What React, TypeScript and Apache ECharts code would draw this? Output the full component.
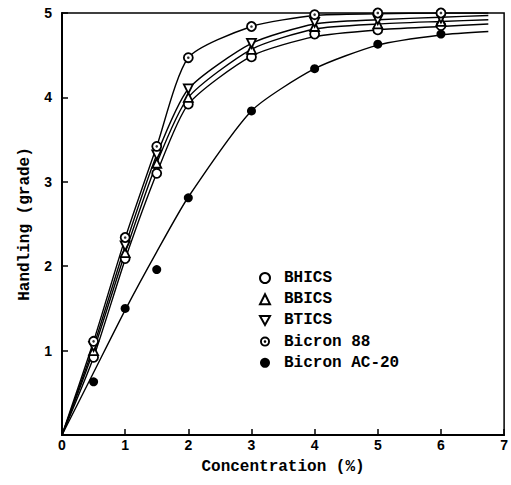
import React, { useEffect, useRef } from "react";
import * as echarts from "echarts";

const pointX = [0.5, 1, 1.5, 2, 3, 4, 5, 6];
const bhics = [0.92, 2.09, 3.1, 3.92, 4.48, 4.75, 4.8, 4.85];
const bbics = [1.0, 2.16, 3.22, 4.0, 4.57, 4.84, 4.87, 4.9];
const btics = [1.05, 2.24, 3.32, 4.1, 4.64, 4.89, 4.92, 4.94];
const bicron88 = [1.11, 2.34, 3.42, 4.47, 4.84, 4.98, 5.0, 5.0];
const bicronAC20 = [0.63, 1.5, 1.96, 2.81, 3.84, 4.34, 4.63, 4.75];

const curveX = [0, 0.5, 1, 1.5, 2, 3, 4, 5, 6, 6.75];
const bhicsCurve = [0, 0.92, 2.08, 3.1, 3.92, 4.49, 4.72, 4.8, 4.84, 4.87];
const bbicsCurve = [0, 1.0, 2.16, 3.22, 4.0, 4.57, 4.81, 4.87, 4.9, 4.92];
const bticsCurve = [0, 1.05, 2.24, 3.32, 4.1, 4.64, 4.87, 4.92, 4.95, 4.97];
const bicron88Curve = [0, 1.11, 2.33, 3.42, 4.47, 4.84, 4.97, 4.99, 5.0, 5.0];
const bicronAC20Curve = [0, 0.74, 1.48, 2.17, 2.82, 3.84, 4.34, 4.62, 4.74, 4.78];

const xTicks = [0, 1, 2, 3, 4, 5, 6, 7];
const yTicks = [0, 1, 2, 3, 4, 5];

const seriesNames = ["BHICS", "BBICS", "BTICS", "Bicron 88", "Bicron AC-20"];

const downTri = "path://M0,0L10,0L5,9Z";
const dottedCircle =
  "path://M5,0A5,5 0 1,1 5,10A5,5 0 1,1 5,0ZM5,1.9A3.1,3.1 0 1,0 5,8.1A3.1,3.1 0 1,0 5,1.9ZM5,3.7A1.3,1.3 0 1,1 5,6.3A1.3,1.3 0 1,1 5,3.7Z";

const zip = (xs: number[], ys: number[]) => xs.map((x, i) => [x, ys[i]]);

export default function App() {
  const ref = useRef<HTMLDivElement>(null);
  useEffect(() => {
    if (!ref.current) return;
    const chart = echarts.init(ref.current, null, { renderer: "svg" });
    const curve = (data: number[]) => ({
      type: "line",
      data: zip(curveX, data),
      smooth: 0.22,
      symbol: "none",
      silent: true,
      lineStyle: { color: "#000", width: 1.4 },
      z: 2,
    });
    const marker = (name: string, data: number[], symbol: string, fill: string, size = 9) => ({
      type: "scatter",
      name,
      data: zip(pointX, data),
      symbol,
      symbolSize: size,
      itemStyle: { color: fill, borderColor: "#000", borderWidth: fill === "#000" ? 0 : 1.8, opacity: 1 },
      z: 3,
    });
    const mono = "'Liberation Mono', 'DejaVu Sans Mono', monospace";
    const option: any = {
      animation: false,
      grid: {
        left: 62,
        right: 5,
        top: 13,
        bottom: 50,
        show: true,
        borderColor: "#000",
        borderWidth: 1.5,
        backgroundColor: "transparent",
      },
      legend: {
        orient: "vertical",
        left: 254,
        top: 265,
        itemWidth: 10,
        itemHeight: 10,
        itemGap: 5.2,
        selectedMode: false,
        data: [
          { name: "BHICS" },
          { name: "BBICS" },
          { name: "BTICS", icon: downTri },
          { name: "Bicron 88", icon: dottedCircle, itemStyle: { color: "#000", borderWidth: 0 } },
          { name: "Bicron AC-20" },
        ],
        textStyle: {
          fontFamily: mono,
          fontSize: 16,
          lineHeight: 16,
          fontWeight: "bold",
          color: "#000",
          padding: [0, 0, 0, 9],
        },
      },
      xAxis: {
        type: "value",
        min: xTicks[0],
        max: xTicks[xTicks.length - 1],
        interval: 1,
        name: "Concentration (%)",
        nameLocation: "middle",
        nameGap: 24,
        nameTextStyle: { fontFamily: mono, fontSize: 16, fontWeight: "bold", color: "#000" },
        axisLine: { show: true, lineStyle: { color: "#000", width: 2 } },
        axisTick: { show: true, inside: true, length: 6, lineStyle: { color: "#000", width: 1.5 } },
        axisLabel: {
          margin: 3,
          color: "#000",
          fontFamily: "'Liberation Sans', Arial, sans-serif",
          fontWeight: "bold",
          fontSize: 14,
        },
        splitLine: { show: false },
      },
      yAxis: {
        type: "value",
        min: yTicks[0],
        max: yTicks[yTicks.length - 1],
        interval: 1,
        name: "Handling (grade)",
        nameLocation: "middle",
        nameGap: 28,
        nameTextStyle: { fontFamily: mono, fontSize: 16, fontWeight: "bold", color: "#000" },
        axisLine: { show: true, lineStyle: { color: "#000", width: 2 } },
        axisTick: { show: true, inside: true, length: 6, lineStyle: { color: "#000", width: 1.5 } },
        axisLabel: {
          margin: 10,
          color: "#000",
          fontFamily: "'Liberation Sans', Arial, sans-serif",
          fontWeight: "bold",
          fontSize: 14,
          formatter: (v: number) => (v === 0 ? "" : String(v)),
        },
        splitLine: { show: false },
      },
      series: [
        curve(bhicsCurve),
        curve(bbicsCurve),
        curve(bticsCurve),
        curve(bicron88Curve),
        curve(bicronAC20Curve),
        marker(seriesNames[0], bhics, "circle", "#fff", 9),
        marker(seriesNames[1], bbics, "triangle", "#fff", 9),
        marker(seriesNames[2], btics, downTri, "#fff", 9),
        marker(seriesNames[3], bicron88, "circle", "#fff", 9),
        {
          type: "scatter",
          name: "b88dot",
          data: zip(pointX, bicron88),
          symbol: "circle",
          symbolSize: 2.6,
          itemStyle: { color: "#000" },
          silent: true,
          z: 4,
        },
        marker(seriesNames[4], bicronAC20, "circle", "#000", 9),
      ],
    };
    chart.setOption(option);
    return () => chart.dispose();
  }, []);
  return (
    <div
      ref={ref}
      style={{ position: "fixed", left: 0, top: 0, width: 511, height: 485, background: "#fff" }}
    />
  );
}
